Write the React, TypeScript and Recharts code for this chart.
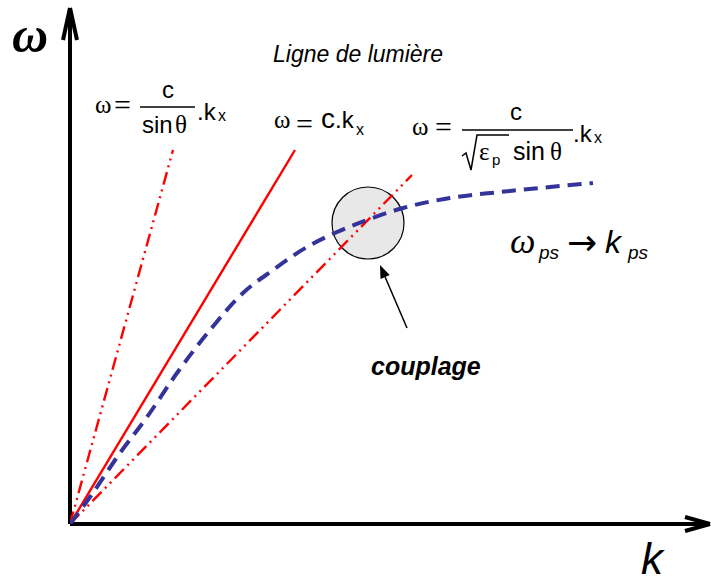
import { LineChart, Line, XAxis, YAxis, ReferenceLine, ReferenceDot } from "recharts";

// k / omega in plot units (origin at the corner of the axes)
const steepK = [0, 103];
const steepW = [0, 374];
const lightK = [0, 225];
const lightW = [0, 374];
const slowK = [0, 342];
const slowW = [0, 349];
const plasmonK = [0, 20, 50, 77, 107, 140, 173, 203, 237, 267, 297, 333, 380, 430, 480, 523];
const plasmonW = [0, 27, 71, 107, 151, 194, 231, 254, 277, 292, 304, 316, 326, 332, 337, 341];

const couplingK = 298;
const couplingW = 301;

const toRows = (ks: number[], ws: number[]) => ks.map((k, i) => ({ k, w: ws[i] }));

const steepData = toRows(steepK, steepW);
const lightData = toRows(lightK, lightW);
const slowData = toRows(slowK, slowW);
const plasmonData = toRows(plasmonK, plasmonW);

const RED = "#ff0000";
const BLUE = "#333399";
const SANS = "'Liberation Sans', Arial, sans-serif";
const SERIF = "'Liberation Serif', 'Times New Roman', serif";

const arrowShape = (props: any) => {
  const { x1, y1, x2, y2 } = props;
  const ang = Math.atan2(y2 - y1, x2 - x1);
  const len = 13;
  const half = 5;
  const bx = x2 - len * Math.cos(ang);
  const by = y2 - len * Math.sin(ang);
  const px = -Math.sin(ang) * half;
  const py = Math.cos(ang) * half;
  return (
    <g>
      <line x1={x1} y1={y1} x2={bx} y2={by} stroke="#000" strokeWidth={1.5} />
      <polygon points={`${x2},${y2} ${bx + px},${by + py} ${bx - px},${by - py}`} fill="#000" />
    </g>
  );
};

export default function App() {
  return (
    <div style={{ position: "absolute", left: 0, top: 0, width: 711, height: 577, background: "#fff" }}>
      <LineChart width={711} height={577} margin={{ top: 8, right: 1, bottom: 53, left: 70 }}>
        <XAxis dataKey="k" type="number" domain={[0, 640]} hide allowDataOverflow />
        <YAxis dataKey="w" type="number" domain={[0, 516]} hide allowDataOverflow />
        <ReferenceDot x={couplingK} y={couplingW} r={36} fill="#e8e8e8" stroke="#000" strokeWidth={1.2} ifOverflow="visible" zIndex={-1} />
        {/* axes with arrow heads */}
        <ReferenceLine segment={[{ x: 0, y: 0 }, { x: 0, y: 514 }]} stroke="#000" strokeWidth={4} ifOverflow="visible" />
        <ReferenceLine segment={[{ x: 0, y: 0 }, { x: 638, y: 0 }]} stroke="#000" strokeWidth={4} ifOverflow="visible" />
        <ReferenceLine segment={[{ x: -7, y: 484 }, { x: 0, y: 516 }]} stroke="#000" strokeWidth={4} ifOverflow="visible" />
        <ReferenceLine segment={[{ x: 7, y: 484 }, { x: 0, y: 516 }]} stroke="#000" strokeWidth={4} ifOverflow="visible" />
        <ReferenceLine segment={[{ x: 615, y: 7 }, { x: 640, y: 0 }]} stroke="#000" strokeWidth={4} ifOverflow="visible" />
        <ReferenceLine segment={[{ x: 615, y: -7 }, { x: 640, y: 0 }]} stroke="#000" strokeWidth={4} ifOverflow="visible" />
        <ReferenceLine segment={[{ x: 337, y: 196 }, { x: 310, y: 259 }]} shape={arrowShape} ifOverflow="visible" />
        <Line data={steepData} dataKey="w" type="linear" stroke={RED} strokeWidth={2.4} strokeDasharray="13 5 2 5 2 5" dot={false} activeDot={false} isAnimationActive={false} />
        <Line data={lightData} dataKey="w" type="linear" stroke={RED} strokeWidth={2.4} dot={false} activeDot={false} isAnimationActive={false} />
        <Line data={slowData} dataKey="w" type="linear" stroke={RED} strokeWidth={2.4} strokeDasharray="13 5 2 5 2 5" dot={false} activeDot={false} isAnimationActive={false} />
        <Line data={plasmonData} dataKey="w" type="monotone" stroke={BLUE} strokeWidth={4} strokeDasharray="14 8" dot={false} activeDot={false} isAnimationActive={false} />
      </LineChart>

      <svg width={711} height={577} style={{ position: "absolute", left: 0, top: 0, pointerEvents: "none" }}>
        {/* axis labels */}
        <text x={12} y={52} fontFamily={SERIF} fontStyle="italic" fontWeight="bold" fontSize={50}>ω</text>
        <text x={641} y={574} fontFamily={SANS} fontStyle="italic" fontSize={44}>k</text>

        <text x={273} y={62} fontFamily={SANS} fontStyle="italic" fontSize={23}>Ligne de lumière</text>

        {/* ω = c / sinθ . kx */}
        <text x={95} y={113} fontFamily={SERIF} fontSize={25}>ω</text>
        <text x={114} y={115} fontFamily={SERIF} fontSize={30}>=</text>
        <line x1={140} y1={107} x2={195} y2={107} stroke="#000" strokeWidth={1.5} />
        <text x={162} y={98} fontFamily={SANS} fontSize={24}>c</text>
        <text x={142} y={133} fontFamily={SANS} fontSize={24}>sin</text>
        <text x={175} y={133} fontFamily={SERIF} fontSize={25}>θ</text>
        <text x={197} y={120} fontFamily={SANS} fontSize={24}>.k</text>
        <text x={218} y={121} fontFamily={SANS} fontSize={16}>x</text>

        {/* ω = c.kx */}
        <text x={274} y={128} fontFamily={SERIF} fontSize={25}>ω</text>
        <text x={296} y={134} fontFamily={SERIF} fontSize={30}>=</text>
        <text x={321} y={128} fontFamily={SANS} fontSize={28}>c</text>
        <text x={335} y={128} fontFamily={SANS} fontSize={24}>.k</text>
        <text x={356} y={135} fontFamily={SANS} fontSize={16}>x</text>

        {/* ω = c / (√εp sinθ) . kx */}
        <text x={412} y={135} fontFamily={SERIF} fontSize={25}>ω</text>
        <text x={435} y={137} fontFamily={SERIF} fontSize={30}>=</text>
        <line x1={462} y1={130} x2={573} y2={130} stroke="#000" strokeWidth={1.5} />
        <text x={510} y={120} fontFamily={SANS} fontSize={24}>c</text>
        <polyline points="462,156 466,153 471,170 477,135 509,135" fill="none" stroke="#000" strokeWidth={1.5} />
        <text x={479} y={160} fontFamily={SERIF} fontSize={25}>ε</text>
        <text x={492} y={165} fontFamily={SANS} fontSize={15}>p</text>
        <text x={513} y={160} fontFamily={SANS} fontSize={25}>sin</text>
        <text x={550} y={160} fontFamily={SERIF} fontSize={25}>θ</text>
        <text x={573} y={142} fontFamily={SANS} fontSize={24}>.k</text>
        <text x={594} y={143} fontFamily={SANS} fontSize={16}>x</text>

        {/* ω_ps → k_ps */}
        <text x={510} y={253} fontFamily={SERIF} fontStyle="italic" fontSize={36}>ω</text>
        <text x={539} y={259} fontFamily={SANS} fontStyle="italic" fontSize={19}>ps</text>
        <text x={567} y={255} fontFamily="'DejaVu Sans', sans-serif" fontSize={36}>→</text>
        <text x={605} y={253} fontFamily={SANS} fontStyle="italic" fontSize={32}>k</text>
        <text x={628} y={259} fontFamily={SANS} fontStyle="italic" fontSize={19}>ps</text>

        <text x={371} y={375} fontFamily={SANS} fontStyle="italic" fontWeight="bold" fontSize={25}>couplage</text>
      </svg>
    </div>
  );
}
